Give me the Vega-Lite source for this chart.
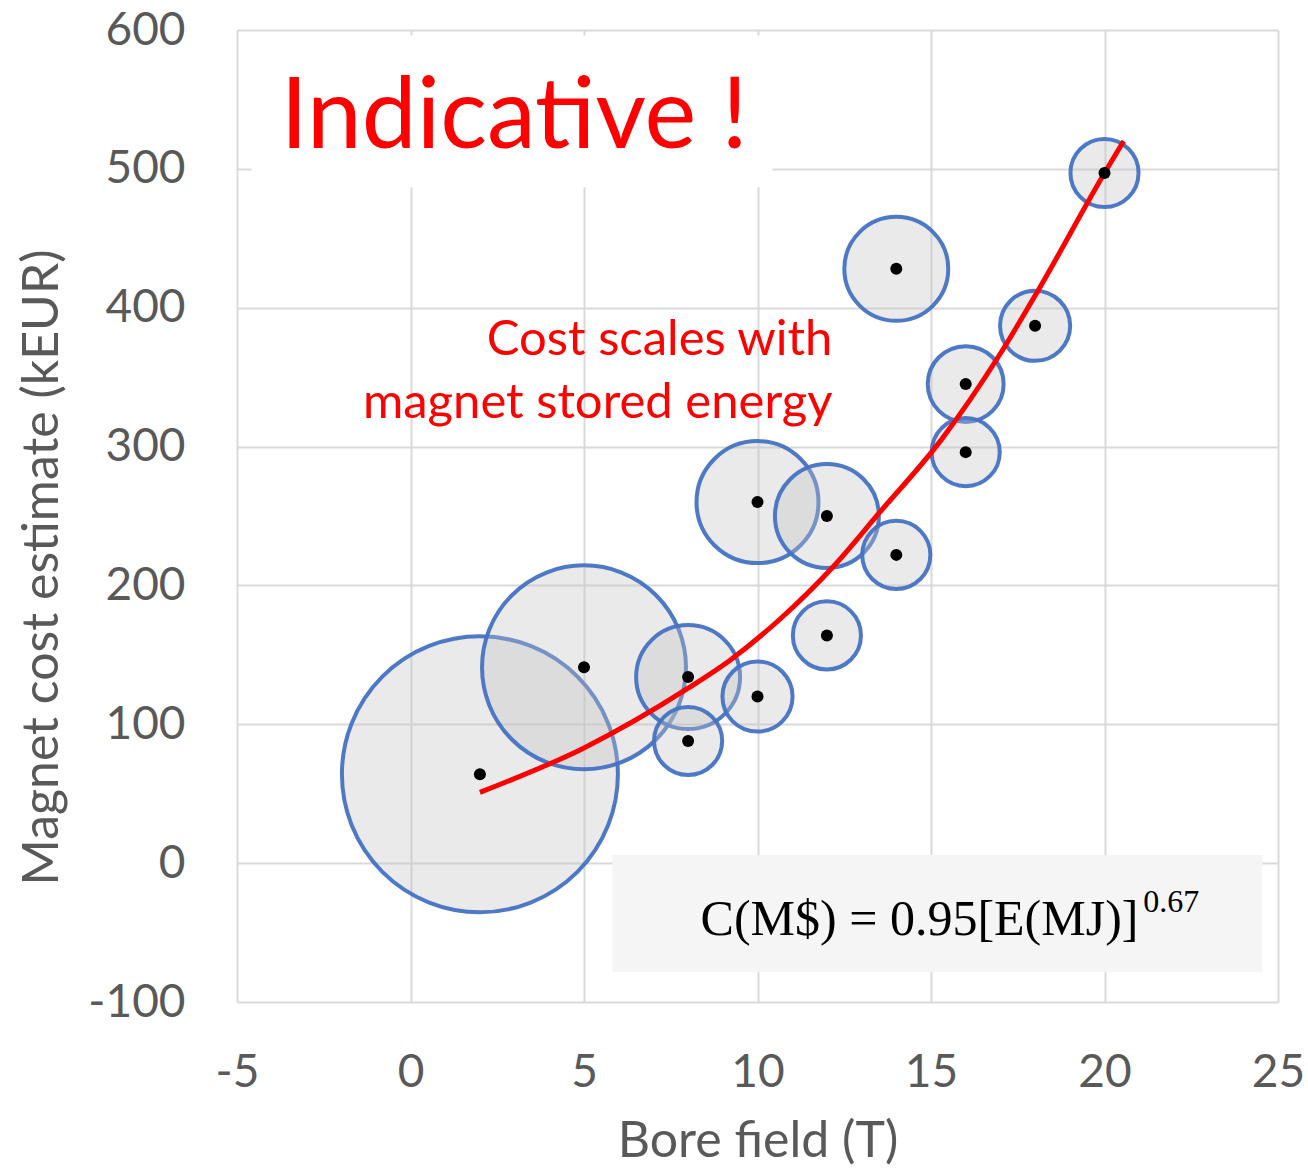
{
  "$schema": "https://vega.github.io/schema/vega-lite/v6.json",
  "autosize": {"type": "none"},
  "width": 1041,
  "height": 972,
  "padding": {"left": 237, "top": 30, "right": 30, "bottom": 167},
  "background": "white",
  "config": {
    "view": {"stroke": null},
    "font": "Lato",
    "axis": {
      "labelFont": "Lato",
      "titleFont": "Lato",
      "labelColor": "#595959",
      "titleColor": "#595959",
      "labelFontSize": 46,
      "titleFontSize": 50,
      "titleFontWeight": "normal",
      "gridColor": "#d9d9d9",
      "gridWidth": 2,
      "domain": false,
      "ticks": false,
      "labelFlush": false
    }
  },
  "datasets": {
    "bubbles": [
      {"field": 2, "cost": 64, "energy": 190.4},
      {"field": 5, "cost": 141, "energy": 104},
      {"field": 8, "cost": 134, "energy": 27},
      {"field": 8, "cost": 88, "energy": 11.6},
      {"field": 10, "cost": 120, "energy": 12.3},
      {"field": 10, "cost": 260, "energy": 37.2},
      {"field": 12, "cost": 250, "energy": 27},
      {"field": 12, "cost": 164, "energy": 11.6},
      {"field": 14, "cost": 222, "energy": 11.6},
      {"field": 14, "cost": 428, "energy": 27},
      {"field": 16, "cost": 345, "energy": 14.4},
      {"field": 16, "cost": 296, "energy": 11.6},
      {"field": 18, "cost": 387, "energy": 12.3},
      {"field": 20, "cost": 497, "energy": 11.6}
    ],
    "fit": [
      {"field": 2, "cost": 51},
      {"field": 5, "cost": 83},
      {"field": 8, "cost": 126},
      {"field": 9.2, "cost": 146},
      {"field": 10.66, "cost": 176},
      {"field": 12.2, "cost": 214},
      {"field": 13.5, "cost": 252},
      {"field": 15.3, "cost": 305},
      {"field": 17, "cost": 367},
      {"field": 18.1, "cost": 413},
      {"field": 20, "cost": 497},
      {"field": 20.55, "cost": 520}
    ],
    "boxes": [
      {"x1": -4.58, "x2": 10.43, "y1": 486.7, "y2": 596, "fill": "white"},
      {"x1": 5.82, "x2": 24.55, "y1": -78.5, "y2": 5.8, "fill": "#f5f5f5"}
    ]
  },
  "layer": [
    {
      "data": {"name": "boxes"},
      "mark": {"type": "rect"},
      "encoding": {
        "x": {"field": "x1", "type": "quantitative", "scale": {"domain": [-5, 25], "nice": false, "zero": false},
              "axis": {"values": [-5, 0, 5, 10, 15, 20, 25], "labelExpr": "toString(datum.value)", "title": "Bore field (T)", "labelPadding": 48, "titlePadding": 21, "labelFlush": false}},
        "x2": {"field": "x2"},
        "y": {"field": "y1", "type": "quantitative", "scale": {"domain": [-100, 600], "nice": false, "zero": false},
              "axis": {"values": [-100, 0, 100, 200, 300, 400, 500, 600], "labelExpr": "toString(datum.value)", "title": "Magnet cost estimate (kEUR)", "labelPadding": 52, "labelFlush": false, "titleX": -180, "titleY": 537, "titleBaseline": "alphabetic", "titleAngle": 270, "titleAlign": "center"}},
        "y2": {"field": "y2"},
        "color": {"field": "fill", "type": "nominal", "scale": null}
      }
    },
    {
      "data": {"name": "bubbles"},
      "mark": {"type": "circle", "fill": "#c4c4c4", "fillOpacity": 0.35, "stroke": "#4472c4", "strokeWidth": 4, "strokeOpacity": 0.95},
      "encoding": {
        "x": {"field": "field", "type": "quantitative"},
        "y": {"field": "cost", "type": "quantitative"},
        "size": {"field": "energy", "type": "quantitative", "scale": {"domain": [0, 200], "range": [0, 80000], "zero": true}, "legend": null}
      }
    },
    {
      "data": {"name": "fit"},
      "mark": {"type": "line", "color": "#ff0000", "strokeWidth": 5, "interpolate": "monotone"},
      "encoding": {
        "x": {"field": "field", "type": "quantitative"},
        "y": {"field": "cost", "type": "quantitative"}
      }
    },
    {
      "data": {"name": "bubbles"},
      "mark": {"type": "circle", "color": "black", "opacity": 1, "size": 144},
      "encoding": {
        "x": {"field": "field", "type": "quantitative"},
        "y": {"field": "cost", "type": "quantitative"}
      }
    },
    {
      "data": {"values": [{"x": -3.75, "y": 514.8, "t": "Indicative !"}]},
      "mark": {"type": "text", "align": "left", "baseline": "alphabetic", "font": "Lato", "fontSize": 98, "color": "#ff0000"},
      "encoding": {
        "x": {"field": "x", "type": "quantitative"},
        "y": {"field": "y", "type": "quantitative"},
        "text": {"field": "t"}
      }
    },
    {
      "data": {"values": [{"x": 12.16, "y": 365.7, "t": "Cost scales with"}, {"x": 12.16, "y": 320.4, "t": "magnet stored energy"}]},
      "mark": {"type": "text", "align": "right", "baseline": "alphabetic", "font": "Lato", "fontSize": 49, "color": "#ff0000"},
      "encoding": {
        "x": {"field": "x", "type": "quantitative"},
        "y": {"field": "y", "type": "quantitative"},
        "text": {"field": "t"}
      }
    },
    {
      "data": {"values": [{"x": 8.36, "y": -51.8, "t": "C(M$) = 0.95[E(MJ)]"}]},
      "mark": {"type": "text", "align": "left", "baseline": "alphabetic", "font": "Liberation Serif", "fontSize": 50, "color": "black"},
      "encoding": {
        "x": {"field": "x", "type": "quantitative"},
        "y": {"field": "y", "type": "quantitative"},
        "text": {"field": "t"}
      }
    },
    {
      "data": {"values": [{"x": 21.12, "y": -35.5, "t": "0.67"}]},
      "mark": {"type": "text", "align": "left", "baseline": "alphabetic", "font": "Liberation Serif", "fontSize": 32, "color": "black"},
      "encoding": {
        "x": {"field": "x", "type": "quantitative"},
        "y": {"field": "y", "type": "quantitative"},
        "text": {"field": "t"}
      }
    }
  ]
}
